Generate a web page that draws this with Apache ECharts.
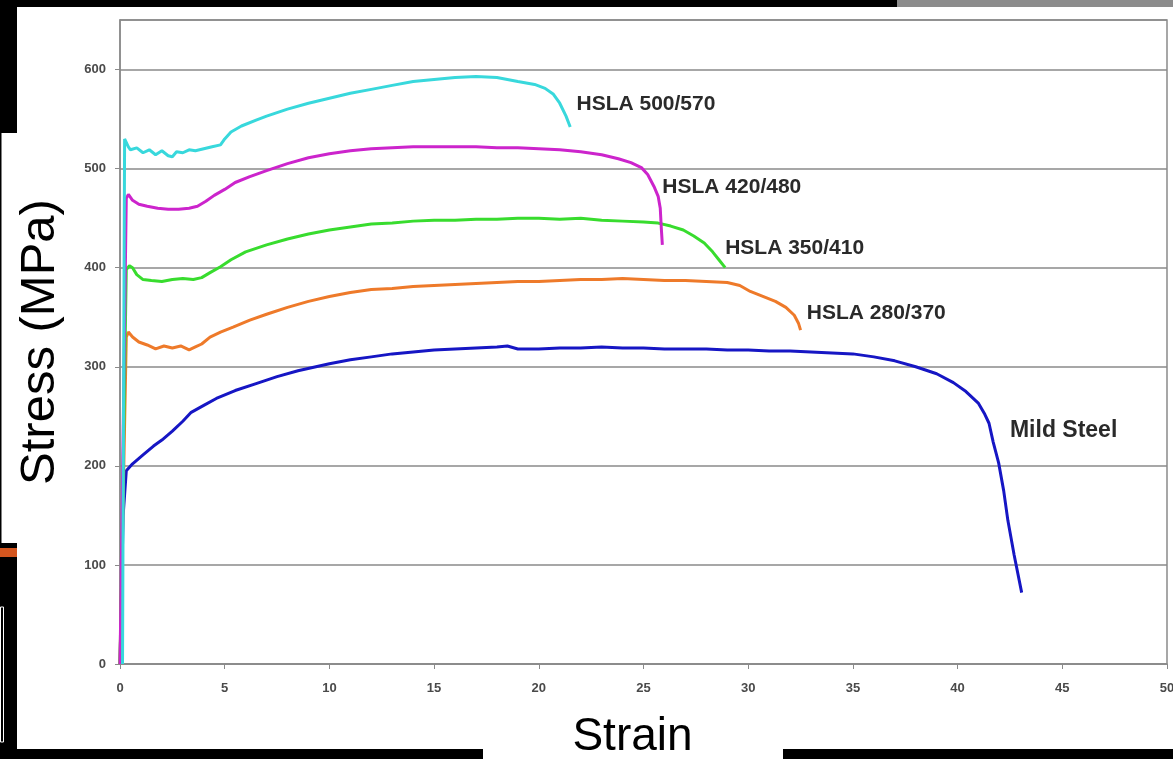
<!DOCTYPE html>
<html>
<head>
<meta charset="utf-8">
<title>Stress vs Strain</title>
<script src="https://cdn.jsdelivr.net/npm/echarts@6/dist/echarts.min.js"></script>
<style>
  html, body { margin: 0; padding: 0; background: #000; }
  #main { width: 1173px; height: 759px; }
</style>
</head>
<body>
<div id="main"></div>
<script>
// strain (%) / stress (MPa) pairs
const mildSteel = [
  [0, 0], [0.15, 150], [0.3, 195], [0.6, 202], [1.1, 211], [1.6, 220], [2.0, 226], [2.5, 235],
  [3.0, 245], [3.4, 254], [4.0, 261], [4.6, 268], [5.5, 276], [6.5, 283], [7.5, 290], [8.5, 296],
  [10, 303], [11, 307], [12, 310], [13, 313], [14, 315], [15, 317], [16, 318], [17, 319],
  [18, 320], [18.5, 321], [19, 318], [20, 318], [21, 319], [22, 319], [23, 320], [24, 319],
  [25, 319], [26, 318], [27, 318], [28, 318], [29, 317], [30, 317], [31, 316], [32, 316],
  [33, 315], [34, 314], [35, 313], [36, 310], [37, 306], [38, 300], [39, 293], [39.8, 284],
  [40.4, 275], [41.0, 263], [41.3, 252], [41.5, 243], [41.7, 224], [41.96, 203], [42.2, 175],
  [42.4, 145], [42.7, 110], [43.06, 72]
];
const hsla280 = [
  [0, 0], [0.3, 330], [0.4, 335], [0.6, 330], [0.9, 325], [1.3, 322], [1.7, 318], [2.1, 321],
  [2.5, 319], [2.9, 321], [3.3, 317], [3.6, 320], [3.9, 323], [4.3, 330], [4.8, 335], [5.4, 340],
  [6.2, 347], [7.0, 353], [8.0, 360], [9.0, 366], [10, 371], [11, 375], [12, 378], [13, 379],
  [14, 381], [15, 382], [16, 383], [17, 384], [18, 385], [19, 386], [20, 386], [21, 387],
  [22, 388], [23, 388], [24, 389], [25, 388], [26, 387], [27, 387], [28, 386], [29, 385],
  [29.6, 382], [30.1, 376], [30.7, 371], [31.3, 366], [31.8, 360], [32.2, 352], [32.4, 344], [32.5, 337]
];
const hsla350 = [
  [0, 0], [0.3, 398], [0.45, 402], [0.6, 400], [0.8, 393], [1.1, 388], [1.5, 387], [2.0, 386],
  [2.5, 388], [3.0, 389], [3.5, 388], [3.9, 390], [4.3, 395], [4.8, 401], [5.3, 408], [6.0, 416],
  [7.0, 423], [8.0, 429], [9.0, 434], [10, 438], [11, 441], [12, 444], [13, 445], [14, 447],
  [15, 448], [16, 448], [17, 449], [18, 449], [19, 450], [20, 450], [21, 449], [22, 450],
  [23, 448], [24, 447], [25, 446], [25.7, 445], [26.3, 442], [26.9, 438], [27.4, 432],
  [27.9, 425], [28.3, 416], [28.6, 408], [28.9, 400]
];
const hsla420 = [
  [0, 0], [0.3, 470], [0.4, 474], [0.6, 468], [0.9, 464], [1.3, 462], [1.8, 460], [2.3, 459],
  [2.8, 459], [3.3, 460], [3.7, 462], [4.1, 467], [4.5, 473], [5.0, 479], [5.5, 486], [6.2, 492],
  [7.0, 498], [8.0, 505], [9.0, 511], [10, 515], [11, 518], [12, 520], [13, 521], [14, 522],
  [15, 522], [16, 522], [17, 522], [18, 521], [19, 521], [20, 520], [21, 519], [22, 517],
  [23, 514], [23.8, 510], [24.4, 506], [24.9, 501], [25.2, 494], [25.5, 482], [25.7, 472],
  [25.8, 460], [25.85, 440], [25.9, 423]
];
const hsla500 = [
  [0.12, 0], [0.22, 530], [0.3, 532], [0.4, 522], [0.5, 519], [0.8, 521], [1.1, 516], [1.4, 519],
  [1.7, 514], [2.0, 518], [2.3, 513], [2.5, 512], [2.7, 517], [3.0, 516], [3.3, 519], [3.6, 518],
  [4.0, 520], [4.4, 522], [4.8, 524], [5.0, 530], [5.3, 537], [5.8, 543], [6.5, 549], [7.0, 553],
  [8.0, 560], [9.0, 566], [10, 571], [11, 576], [12, 580], [13, 584], [14, 588], [15, 590],
  [16, 592], [17, 593], [18, 592], [19, 588], [19.8, 585], [20.3, 581], [20.7, 575], [21.0, 566],
  [21.3, 553], [21.5, 542]
];
const seriesNames = ['Mild Steel', 'HSLA 280/370', 'HSLA 350/410', 'HSLA 420/480', 'HSLA 500/570'];
const xTicks = [0, 5, 10, 15, 20, 25, 30, 35, 40, 45, 50];
const yTicks = [0, 100, 200, 300, 400, 500, 600];

const chart = echarts.init(document.getElementById('main'));
const tickFont = { fontFamily: 'Liberation Sans', fontWeight: 'bold', fontSize: 13, color: '#4a4a4a' };

function curve(name, data, color, labelAt, fontSize) {
  return {
    name: name,
    type: 'line',
    data: data,
    showSymbol: false,
    lineStyle: { color: color, width: 3 },
    itemStyle: { color: color },
    markPoint: {
      symbolSize: 0,
      label: {
        show: true, position: 'right', distance: 0, formatter: name,
        fontFamily: 'Liberation Sans', fontWeight: 'bold', fontSize: fontSize, color: '#2a2a2a'
      },
      data: [{ coord: labelAt }]
    }
  };
}

const option = {
  backgroundColor: '#000',
  animation: false,
  graphic: [
    { type: 'rect', z: -10, shape: { x: 17, y: 7, width: 1156, height: 742 }, style: { fill: '#fff' } },
    { type: 'rect', z: -10, shape: { x: 897, y: 0, width: 276, height: 7 }, style: { fill: '#8c8c8c' } },
    { type: 'rect', z: -10, shape: { x: 1.5, y: 133, width: 16, height: 410 }, style: { fill: '#fff' } },
    { type: 'rect', z: -10, shape: { x: 0, y: 548, width: 17, height: 9 }, style: { fill: '#d4561f' } },
    { type: 'rect', z: -10, shape: { x: 0.5, y: 607, width: 3, height: 135 }, style: { fill: 'none', stroke: '#fff', lineWidth: 1 } },
    { type: 'rect', z: -10, shape: { x: 483, y: 740, width: 300, height: 19 }, style: { fill: '#fff' } }
  ],
  grid: {
    left: 120, right: 6, top: 20, bottom: 95,
    outerBoundsMode: 'none',
    show: true, backgroundColor: '#fff', borderColor: '#8a8a8a', borderWidth: 1.5
  },
  xAxis: {
    type: 'value', min: xTicks[0], max: xTicks[xTicks.length - 1], interval: 5,
    name: 'Strain', nameLocation: 'middle', nameGap: 50,
    nameTextStyle: { fontFamily: 'Liberation Sans', fontSize: 46, color: '#000', padding: [0, 22, 0, 0] },
    axisLine: { lineStyle: { color: '#8a8a8a', width: 1.5 } },
    axisTick: { show: true, length: 5, lineStyle: { color: '#8a8a8a' } },
    axisLabel: Object.assign({ margin: 18 }, tickFont),
    splitLine: { show: false }
  },
  yAxis: {
    type: 'value', min: yTicks[0], max: 650, interval: 100,
    name: 'Stress (MPa)', nameLocation: 'middle', nameGap: 55, nameRotate: 90,
    nameTextStyle: { fontFamily: 'Liberation Sans', fontSize: 49, color: '#000' },
    axisLine: { show: true, lineStyle: { color: '#8a8a8a', width: 1.5 } },
    axisTick: { show: true, length: 5, lineStyle: { color: '#8a8a8a' } },
    axisLabel: Object.assign({ margin: 14, showMaxLabel: false }, tickFont),
    splitLine: { show: true, lineStyle: { color: '#8a8a8a', width: 1.5 } }
  },
  series: [
    curve(seriesNames[0], mildSteel, '#1616c4', [42.5, 236], 23),
    curve(seriesNames[1], hsla280, '#ee7a2a', [32.8, 354], 21),
    curve(seriesNames[2], hsla350, '#38dc2e', [28.9, 420], 21),
    curve(seriesNames[3], hsla420, '#cc24cc', [25.9, 481], 21),
    curve(seriesNames[4], hsla500, '#38d8dc', [21.8, 565], 21)
  ]
};

chart.setOption(option);
</script>
</body>
</html>
